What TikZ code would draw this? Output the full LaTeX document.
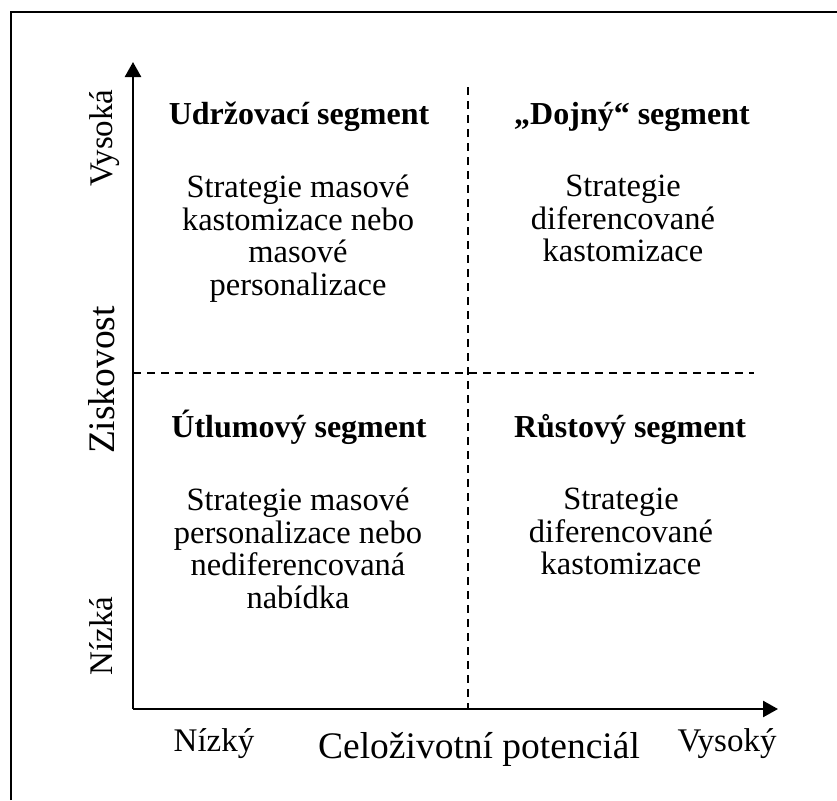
\documentclass[tikz,border=0pt]{standalone}
\usepackage{fontspec}
\setmainfont{Liberation Serif}
\usetikzlibrary{arrows.meta, positioning}

\begin{document}
\begin{tikzpicture}[
    x=1pt, y=-1pt,
    axis/.style={line width=2.5pt, -{Triangle[length=15pt, width=16pt]}},
    divider/.style={line width=1.6pt, dash pattern=on 8pt off 6pt},
    head/.style={font=\bfseries\fontsize{32}{33}\selectfont, inner sep=0pt, anchor=base},
    body/.style={font=\fontsize{32.5}{32.5}\selectfont, align=center, inner sep=0pt, anchor=north},
    tick/.style={font=\fontsize{33}{36}\selectfont, inner sep=0pt, anchor=base},
    axislabel/.style={font=\fontsize{37.5}{40}\selectfont, inner sep=0pt, anchor=base}
]
    \useasboundingbox (0,0) rectangle (837,800);

    % Frame (cut off at the right and bottom)
    \draw[line width=2pt] (11,800) -- (11,12) -- (837,12);

    % Axes
    \coordinate (O) at (133,709);
    \coordinate (ytop) at (133,62);
    \coordinate (xend) at (778,709);
    \draw[axis] (O) -- (ytop);
    \draw[axis] (O) -- (xend);

    % Dividers
    \coordinate (vtop) at (468,87);
    \coordinate (vbot) at (468,709);
    \coordinate (hleft) at (133,373);
    \coordinate (hright) at (754,373);
    \draw[divider] (vtop) -- (vbot);
    \draw[divider] (hleft) -- (hright);

    % Quadrants
    \node[head] (ulhead) at (299,124) {Udržovací segment};
    \node[body] (ulbody) at (298,175) {Strategie masové\\kastomizace nebo\\masové\\personalizace};
    \node[head] (urhead) at (632,124) {„Dojný“ segment};
    \node[body] (urbody) at (623,175) {Strategie\\diferencované\\kastomizace};
    \node[head] (llhead) at (299,437) {Útlumový segment};
    \node[body] (llbody) at (298,488) {Strategie masové\\personalizace nebo\\nediferencovaná\\nabídka};
    \node[head] (lrhead) at (630,437) {Růstový segment};
    \node[body] (lrbody) at (621,488) {Strategie\\diferencované\\kastomizace};

    % Axis labels
    \node[tick, rotate=90] (yhigh) at (112,138) {Vysoká};
    \node[tick, rotate=90] (ylow) at (112,636) {Nízká};
    \node[axislabel, rotate=90] (ylabel) at (114,380) {Ziskovost};
    \node[tick] (xlow) at (214,751) {Nízký};
    \node[tick] (xhigh) at (727,751) {Vysoký};
    \node[axislabel] (xlabel) at (479,758) {Celoživotní potenciál};
\end{tikzpicture}
\end{document}
